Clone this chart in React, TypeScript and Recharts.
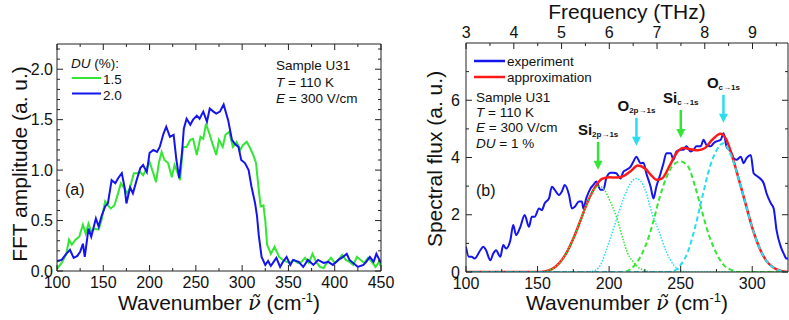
import React from "react";
import { ComposedChart, Line, XAxis, YAxis, ReferenceDot } from "recharts";

const FONT = "'Liberation Sans', Arial, sans-serif";
const BLUE = "#1414ee";
const GREEN = "#33e633";
const RED = "#ff1a1a";
const CYAN = "#2adcf0";
const CM_PER_THZ = 33.356;

// (a) FFT amplitude vs wavenumber (cm-1), DU = 1.5 % and 2.0 %
const du15: [number, number][] = [
  [100, 0.02], [105, 0.08], [110, 0.17], [113, 0.31], [116, 0.26], [120, 0.31], [124, 0.34], [128, 0.46],
  [131, 0.37], [134, 0.47], [137, 0.39], [141, 0.42], [145, 0.41], [148, 0.5], [152, 0.69], [155, 0.65],
  [158, 0.62], [162, 0.65], [165, 0.74], [169, 0.87], [172, 0.83], [176, 0.77], [179, 0.83], [183, 0.97],
  [186, 0.97], [190, 0.98], [193, 0.95], [197, 1.02], [200, 1.08], [204, 0.97], [207, 0.88], [210, 1.07],
  [213, 1.18], [216, 1.1], [220, 1.07], [224, 0.93], [227, 1.05], [230, 0.98], [233, 0.9], [236, 1.23],
  [240, 1.23], [244, 1.3], [247, 1.31], [251, 1.15], [255, 1.33], [258, 1.31], [261, 1.46], [265, 1.35],
  [268, 1.26], [272, 1.15], [275, 1.3], [279, 1.23], [282, 1.35], [286, 1.38], [290, 1.23], [294, 1.28],
  [298, 1.2], [301, 1.25], [305, 1.28], [308, 1.23], [312, 1.15], [315, 1.07], [318, 0.8], [320, 0.64],
  [323, 0.65], [325, 0.5], [327, 0.26], [331, 0.17], [335, 0.24], [340, 0.14], [344, 0.11], [348, 0.09],
  [352, 0.08], [356, 0.11], [360, 0.08], [364, 0.09], [368, 0.13], [372, 0.08], [376, 0.17], [380, 0.09],
  [384, 0.04], [388, 0.03], [392, 0.09], [396, 0.13], [400, 0.08], [404, 0.11], [408, 0.16], [412, 0.11],
  [416, 0.09], [420, 0.06], [424, 0.14], [428, 0.11], [432, 0.08], [436, 0.13], [440, 0.09], [444, 0.04],
  [448, 0.09], [450, 0.04],
];
const du20: [number, number][] = [
  [100, 0.1], [105, 0.11], [110, 0.17], [114, 0.21], [118, 0.13], [122, 0.15], [125, 0.19], [128, 0.27],
  [130, 0.14], [134, 0.42], [137, 0.34], [142, 0.52], [145, 0.44], [148, 0.54], [152, 0.64], [155, 0.67],
  [159, 0.9], [163, 0.87], [166, 0.92], [170, 0.97], [173, 0.83], [175, 0.67], [179, 0.83], [182, 0.77],
  [186, 0.9], [190, 1.02], [193, 1.05], [197, 0.98], [200, 1.17], [204, 1.2], [208, 1.18], [211, 1.23],
  [215, 1.36], [218, 1.43], [222, 1.33], [226, 1.35], [229, 1.1], [232, 0.92], [235, 1.17], [237, 1.41],
  [240, 1.51], [244, 1.45], [247, 1.5], [251, 1.54], [254, 1.51], [258, 1.58], [262, 1.48], [265, 1.61],
  [269, 1.58], [272, 1.56], [276, 1.58], [280, 1.65], [285, 1.49], [289, 1.3], [292, 1.26], [296, 1.23],
  [299, 1.1], [303, 1.07], [307, 1.0], [310, 0.84], [314, 0.67], [316, 0.55], [318, 0.35], [321, 0.14],
  [325, 0.06], [328, 0.1], [331, 0.05], [334, 0.09], [337, 0.13], [341, 0.04], [344, 0.09], [348, 0.14],
  [352, 0.06], [355, 0.11], [361, 0.09], [366, 0.04], [371, 0.11], [377, 0.06], [382, 0.11], [388, 0.08],
  [393, 0.09], [398, 0.06], [404, 0.11], [409, 0.14], [413, 0.17], [416, 0.11], [420, 0.08], [425, 0.04],
  [431, 0.06], [434, 0.09], [438, 0.14], [442, 0.09], [445, 0.17], [450, 0.08],
];
const aXTicks = [100, 125, 150, 175, 200, 225, 250, 275, 300, 325, 350, 375, 400, 425, 450];
const aXLabels = [100, 150, 200, 250, 300, 350, 400, 450];
const aYTicks = [0, 0.1, 0.2, 0.3, 0.4, 0.5, 0.6, 0.7, 0.8, 0.9, 1, 1.1, 1.2, 1.3, 1.4, 1.5, 1.6, 1.7, 1.8, 1.9, 2, 2.1, 2.2];
const aYLabels = [0, 0.5, 1, 1.5, 2];

// (b) spectral flux vs wavenumber, experiment and Gaussian fit
const experiment: [number, number][] = [
  [100, 0.88], [102, 0.53], [104, 0.53], [106, 0.47], [110, 0.76], [112, 0.88], [114, 0.76], [117, 0.41],
  [119, 0.64], [121, 0.76], [124, 0.53], [126, 0.94], [128, 0.82], [131, 1.11], [133, 1.64], [135, 1.29],
  [138, 1.58], [141, 1.99], [144, 1.58], [146, 1.93], [148, 1.93], [151, 2.22], [153, 2.16], [155, 2.4],
  [158, 2.57], [160, 2.98], [162, 2.87], [165, 2.69], [167, 2.81], [169, 3.04], [172, 2.69], [174, 2.22],
  [176, 2.28], [179, 2.46], [181, 2.46], [182, 2.22], [184, 2.57], [187, 2.92], [189, 3.04], [191, 3.16],
  [194, 2.87], [196, 2.87], [198, 3.27], [201, 3.47], [203, 3.47], [205, 3.45], [208, 3.27], [210, 3.51],
  [212, 3.57], [215, 3.68], [217, 3.86], [219, 4.03], [222, 3.8], [224, 3.82], [226, 3.45], [229, 2.98],
  [231, 2.57], [233, 2.98], [236, 3.45], [238, 3.8], [240, 4.15], [243, 4.15], [245, 3.92], [247, 4.21],
  [250, 4.27], [252, 4.27], [254, 4.39], [257, 4.21], [259, 4.27], [261, 4.39], [264, 4.39], [266, 4.62],
  [268, 4.44], [271, 4.39], [273, 4.5], [275, 4.56], [278, 4.62], [280, 4.85], [282, 4.39], [285, 4.21],
  [287, 3.98], [289, 3.92], [292, 4.03], [294, 3.8], [296, 3.98], [299, 4.09], [301, 3.45], [304, 3.33],
  [308, 3.1], [310, 2.75], [313, 2.4], [315, 2.22], [317, 1.46], [320, 0.88], [322, 0.64], [324, 0.47],
  [325, 0.47],
];
const approximation: [number, number][] = [
  [100, 0], [150, 0], [155, 0.02], [160, 0.1], [165, 0.3], [170, 0.65], [175, 1.17], [180, 1.8],
  [185, 2.45], [190, 2.95], [195, 3.25], [200, 3.31], [205, 3.3], [210, 3.35], [215, 3.52], [220, 3.72],
  [225, 3.62], [230, 3.35], [233, 3.22], [237, 3.27], [242, 3.68], [247, 4.15], [252, 4.33], [257, 4.29],
  [262, 4.25], [267, 4.33], [272, 4.62], [278, 4.83], [282, 4.62], [286, 4.05], [290, 3.35], [295, 2.45],
  [300, 1.55], [305, 0.85], [310, 0.38], [315, 0.15], [320, 0.04], [325, 0],
];
const si2p: [number, number][] = [
  [100, 0], [150, 0], [155, 0.02], [160, 0.1], [165, 0.3], [170, 0.65], [175, 1.17], [180, 1.8],
  [185, 2.45], [190, 2.92], [193, 3.0], [197, 2.85], [200, 2.55], [205, 1.95], [210, 1.1], [213, 0.65],
  [217, 0.35], [220, 0.18], [225, 0.05], [230, 0], [325, 0],
];
const o2p: [number, number][] = [
  [100, 0], [185, 0], [190, 0.05], [195, 0.35], [198, 0.76], [202, 1.35], [205, 1.81], [210, 2.55],
  [215, 3.1], [219, 3.27], [225, 2.9], [230, 2.05], [235, 1.4], [240, 0.7], [245, 0.25], [250, 0.05],
  [255, 0], [325, 0],
];
const sic: [number, number][] = [
  [100, 0], [210, 0], [215, 0.1], [220, 0.38], [225, 0.86], [230, 1.6], [235, 2.55], [240, 3.3],
  [245, 3.75], [250, 3.86], [255, 3.7], [260, 3.0], [265, 2.1], [270, 1.25], [275, 0.65], [280, 0.25],
  [285, 0.08], [290, 0], [325, 0],
];
const oc: [number, number][] = [
  [100, 0], [240, 0], [245, 0.03], [250, 0.25], [255, 0.7], [260, 1.55], [265, 2.6], [270, 3.6],
  [275, 4.25], [280, 4.5], [285, 4.1], [290, 3.35], [295, 2.45], [300, 1.55], [305, 0.85], [310, 0.38],
  [315, 0.15], [320, 0.04], [325, 0],
];
const bXTicks = [100, 125, 150, 175, 200, 225, 250, 275, 300];
const bXLabels = [100, 150, 200, 250, 300];
const bYTicks = [0, 1, 2, 3, 4, 5, 6, 7];
const bYLabels = [0, 2, 4, 6];
// top axis, in THz
const fTicks = [3, 3.5, 4, 4.5, 5, 5.5, 6, 6.5, 7, 7.5, 8, 8.5, 9, 9.5];
const fLabels = [3, 4, 5, 6, 7, 8, 9];

// transition arrows: position (cm-1) and arrow tip height
const peakPos = [192.3, 219.1, 250.1, 279.9];
const peakTip = [3.57, 4.41, 4.68, 5.21];
const peakMain = ["Si", "O", "Si", "O"];
const peakSub = ["2p\u21921s", "2p\u21921s", "c\u21921s", "c\u21921s"];
const peakColor = [GREEN, CYAN, GREEN, CYAN];

const rows = (pts: [number, number][]) => pts.map(([x, y]) => ({ x, y }));

type Side = "bottom" | "top" | "left" | "right";

function axisTick(side: Side, majors: number[], fmt: ((v: number) => string) | null, gap = 4) {
  return (p: any) => {
    const { x, y, payload } = p;
    const v = payload.value;
    const major = majors.some((m) => Math.abs(m - v) < 1e-6);
    const len = major ? 6 : 3;
    let line;
    if (side === "bottom") line = <line x1={x} y1={y} x2={x} y2={y - len} />;
    else if (side === "top") line = <line x1={x} y1={y} x2={x} y2={y + len} />;
    else if (side === "left") line = <line x1={x} y1={y} x2={x + len} y2={y} />;
    else line = <line x1={x} y1={y} x2={x - len} y2={y} />;
    let label = null;
    if (major && fmt) {
      const t = fmt(v);
      const common = { fill: "#111", stroke: "none", fontSize: 16, fontFamily: FONT };
      if (side === "bottom") label = <text x={x} y={y + 17} textAnchor="middle" {...common}>{t}</text>;
      else if (side === "top") label = <text x={x} y={y - 5.5} textAnchor="middle" {...common}>{t}</text>;
      else if (side === "left") label = <text x={x - gap} y={y + 5.7} textAnchor="end" {...common}>{t}</text>;
      else label = <text x={x + gap} y={y + 5.7} textAnchor="start" {...common}>{t}</text>;
    }
    return (
      <g stroke="#222" strokeWidth={1}>
        {line}
        {label}
      </g>
    );
  };
}

// axes get a 1px band (0 would stop recharts from drawing them), margins are 1px less
const axisCommon = {
  type: "number" as const,
  interval: 0 as const,
  tickLine: false,
  tickSize: 0,
  tickMargin: 0,
  allowDataOverflow: true,
  axisLine: { stroke: "#222", strokeWidth: 1 },
};

const arrowShape = (i: number) => (p: any) => {
  const { cx, cy } = p;
  const c = peakColor[i];
  return (
    <g>
      <line x1={cx} y1={cy - 28} x2={cx} y2={cy - 8} stroke={c} strokeWidth={2.5} />
      <polygon points={`${cx - 4.5},${cy - 9} ${cx + 4.5},${cy - 9} ${cx},${cy}`} fill={c} />
      <text x={cx} y={cy - 35} textAnchor="middle" fontFamily={FONT} fontWeight="bold" fill="#111">
        <tspan fontSize={15}>{peakMain[i]}</tspan>
        <tspan fontSize={8} dy={2}>{peakSub[i]}</tspan>
      </text>
    </g>
  );
};

function PanelA() {
  const dom: [number, number] = [100, 450];
  const ydom: [number, number] = [0, 2.25];
  return (
    <ComposedChart width={400} height={320} margin={{ top: 43, right: 18, bottom: 48, left: 56 }}>
      <XAxis xAxisId="b" dataKey="x" domain={dom} ticks={aXTicks} height={1}
        tick={axisTick("bottom", aXLabels, (v) => String(v))} {...axisCommon} />
      <XAxis xAxisId="t" dataKey="x" orientation="top" domain={dom} ticks={aXTicks} height={1}
        tick={axisTick("top", aXLabels, null)} {...axisCommon} />
      <YAxis yAxisId="l" domain={ydom} ticks={aYTicks} width={1}
        tick={axisTick("left", aYLabels, (v) => v.toFixed(1), 4)} {...axisCommon} />
      <YAxis yAxisId="r" orientation="right" domain={ydom} ticks={aYTicks} width={1}
        tick={axisTick("right", aYLabels, null)} {...axisCommon} />
      {/* unseen copy so the mirror (top / right) axes have a series */}
      <Line data={rows(du15)} xAxisId="t" yAxisId="r" dataKey="y" stroke="none" strokeOpacity={0}
        dot={false} activeDot={false} isAnimationActive={false} />
      <Line data={rows(du15)} xAxisId="b" yAxisId="l" dataKey="y" type="linear" stroke={GREEN}
        strokeWidth={2} dot={false} isAnimationActive={false} />
      <Line data={rows(du20)} xAxisId="b" yAxisId="l" dataKey="y" type="linear" stroke={BLUE}
        strokeWidth={2} dot={false} isAnimationActive={false} />
    </ComposedChart>
  );
}

function PanelB() {
  const dom: [number, number] = [100, 325];
  const ydom: [number, number] = [0, 8];
  // the frequency axis shares the wavenumber scale; ticks placed at f * 33.356 cm-1
  const fTicksCm = fTicks.map((f) => f * CM_PER_THZ);
  const fLabelsCm = fLabels.map((f) => f * CM_PER_THZ);
  return (
    <ComposedChart width={389} height={320} margin={{ top: 42, right: 0, bottom: 47, left: 65 }}>
      <XAxis xAxisId="b" dataKey="x" domain={dom} ticks={bXTicks} height={1}
        tick={axisTick("bottom", bXLabels, (v) => String(v))} {...axisCommon} />
      <XAxis xAxisId="f" dataKey="x" orientation="top" domain={dom} ticks={fTicksCm} height={1}
        tick={axisTick("top", fLabelsCm, (v) => String(Math.round(v / CM_PER_THZ)))} {...axisCommon} />
      <YAxis yAxisId="l" domain={ydom} ticks={bYTicks} width={1}
        tick={axisTick("left", bYLabels, (v) => String(v), 6)} {...axisCommon} />
      <YAxis yAxisId="r" orientation="right" domain={ydom} ticks={bYTicks} width={1}
        tick={axisTick("right", bYLabels, null)} {...axisCommon} />
      <Line data={rows(experiment)} xAxisId="f" yAxisId="r" dataKey="y" stroke="none" strokeOpacity={0}
        dot={false} activeDot={false} isAnimationActive={false} />
      <Line data={rows(experiment)} xAxisId="b" yAxisId="l" dataKey="y" type="monotone" stroke={BLUE}
        strokeWidth={2} dot={false} isAnimationActive={false} />
      <Line data={rows(approximation)} xAxisId="b" yAxisId="l" dataKey="y" type="monotone" stroke={RED}
        strokeWidth={2.5} dot={false} isAnimationActive={false} />
      <Line data={rows(si2p)} xAxisId="b" yAxisId="l" dataKey="y" type="monotone" stroke={GREEN}
        strokeWidth={1.5} strokeDasharray="1.5 1.5" dot={false} isAnimationActive={false} />
      <Line data={rows(o2p)} xAxisId="b" yAxisId="l" dataKey="y" type="monotone" stroke={CYAN}
        strokeWidth={1.5} strokeDasharray="1.5 1.5" dot={false} isAnimationActive={false} />
      <Line data={rows(sic)} xAxisId="b" yAxisId="l" dataKey="y" type="monotone" stroke={GREEN}
        strokeWidth={2} strokeDasharray="5 3" dot={false} isAnimationActive={false} />
      <Line data={rows(oc)} xAxisId="b" yAxisId="l" dataKey="y" type="monotone" stroke={CYAN}
        strokeWidth={2} strokeDasharray="5 3" dot={false} isAnimationActive={false} />
      {peakPos.map((px, i) => (
        <ReferenceDot key={i} x={px} y={peakTip[i]} xAxisId="b" yAxisId="l" r={0}
          ifOverflow="visible" shape={arrowShape(i)} />
      ))}
    </ComposedChart>
  );
}

function Annotations() {
  const t = { fontFamily: FONT, fill: "#111" };
  const nu = <tspan fontStyle="italic" fontFamily="'DejaVu Serif', serif">{"\u03BD\u0303"}</tspan>;
  return (
    <svg width={789} height={320} style={{ position: "absolute", left: 0, top: 0, pointerEvents: "none" }}>
      {/* axis titles */}
      <text {...t} fontSize={21} transform="translate(27,164) rotate(-90)" textAnchor="middle">FFT amplitude (a. u.)</text>
      <text {...t} fontSize={21} x={219} y={310} textAnchor="middle">
        Wavenumber {nu} (cm<tspan fontSize={13} dy={-8}>-1</tspan><tspan dy={8}>)</tspan>
      </text>
      <text {...t} fontSize={21} transform="translate(442,159) rotate(-90)" textAnchor="middle">Spectral flux (a. u.)</text>
      <text {...t} fontSize={21} x={627} y={310} textAnchor="middle">
        Wavenumber {nu} (cm<tspan fontSize={13} dy={-8}>-1</tspan><tspan dy={8}>)</tspan>
      </text>
      <text {...t} fontSize={21} x={627} y={19} textAnchor="middle">Frequency (THz)</text>

      {/* panel (a) */}
      <text {...t} fontSize={13.5} x={71} y={68}><tspan fontStyle="italic">DU</tspan> (%):</text>
      <line x1={72} y1={78} x2={101} y2={78} stroke={GREEN} strokeWidth={2} />
      <text {...t} fontSize={13.5} x={103} y={83.5}>1.5</text>
      <line x1={72} y1={93.5} x2={101} y2={93.5} stroke={BLUE} strokeWidth={2} />
      <text {...t} fontSize={13.5} x={103} y={99.5}>2.0</text>
      <text {...t} fontSize={13.5} x={276} y={70}>Sample U31</text>
      <text {...t} fontSize={13.5} x={276} y={86.5}><tspan fontStyle="italic">T</tspan> = 110 K</text>
      <text {...t} fontSize={13.5} x={276} y={103}><tspan fontStyle="italic">E</tspan> = 300 V/cm</text>
      <text {...t} fontSize={16} x={65} y={195}>(a)</text>

      {/* panel (b) */}
      <line x1={474} y1={61} x2={505} y2={61} stroke={BLUE} strokeWidth={2.5} />
      <text {...t} fontSize={13.5} x={507} y={65.5}>experiment</text>
      <line x1={474} y1={77} x2={505} y2={77} stroke={RED} strokeWidth={2.5} />
      <text {...t} fontSize={13.5} x={507} y={81.5}>approximation</text>
      <text {...t} fontSize={13.5} x={476} y={101.5}>Sample U31</text>
      <text {...t} fontSize={13.5} x={476} y={116.5}><tspan fontStyle="italic">T</tspan> = 110 K</text>
      <text {...t} fontSize={13.5} x={476} y={131.5}><tspan fontStyle="italic">E</tspan> = 300 V/cm</text>
      <text {...t} fontSize={13.5} x={476} y={147.5}><tspan fontStyle="italic">DU</tspan> = 1 %</text>
      <text {...t} fontSize={16} x={476} y={196}>(b)</text>
    </svg>
  );
}

export default function App() {
  return (
    <div style={{ position: "absolute", left: 0, top: 0, width: 789, height: 320, background: "#fff" }}>
      <div style={{ position: "absolute", left: 0, top: 0 }}>
        <PanelA />
      </div>
      <div style={{ position: "absolute", left: 400, top: 0 }}>
        <PanelB />
      </div>
      <Annotations />
    </div>
  );
}
